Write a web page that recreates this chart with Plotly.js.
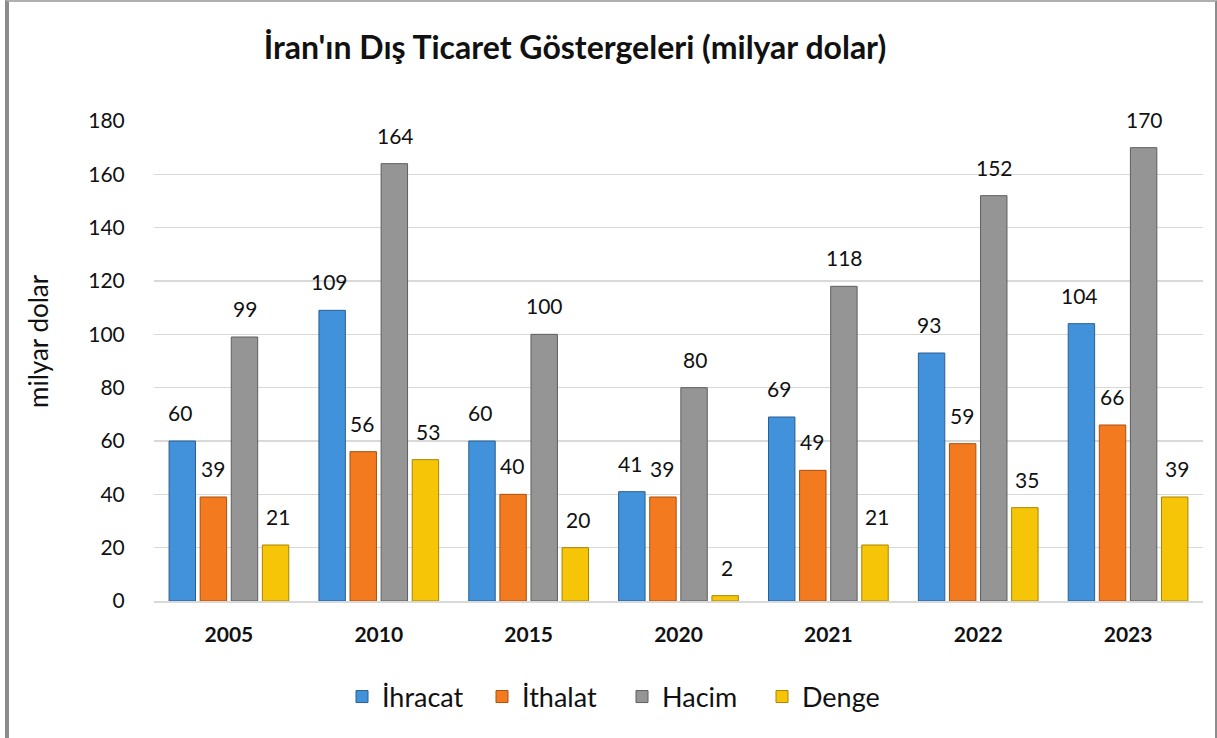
<!DOCTYPE html>
<html><head><meta charset="utf-8">
<script src="https://cdn.plot.ly/plotly-3.0.1.min.js"></script>
<style>
html,body{margin:0;padding:0;background:#fff;}
#wrap{position:relative;width:1217px;height:738px;overflow:hidden;}
#chart{position:absolute;left:0;top:0;width:1217px;height:738px;}
#frame{position:absolute;left:5px;top:0;width:1206px;height:760px;border-left:4px solid #8c8c8c;border-right:3px solid #8c8c8c;border-top:2px solid #b0b0b0;pointer-events:none;}
</style></head>
<body><div id="wrap"><div id="chart"></div><div id="frame"></div></div>
<script>
const years = ['2005','2010','2015','2020','2021','2022','2023'];
const seriesNames = ['İhracat','İthalat','Hacim','Denge'];
const ihracat = [60,109,60,41,69,93,104];
const ithalat = [39,56,40,39,49,59,66];
const hacim = [99,164,100,80,118,152,170];
const denge = [21,53,20,2,21,35,39];
const yTicks = [0,20,40,60,80,100,120,140,160,180];

const allSeries = [ihracat, ithalat, hacim, denge];
const fills = ['#4192DB','#F47A20','#959595','#F6C507'];
const lines = ['#2A5F92','#A8500F','#5E5E5E','#A88400'];
const FONT = 'Lato, "Open Sans", sans-serif';

const traces = allSeries.map((vals,i)=>({
  type:'bar', name:seriesNames[i], x:years, y:vals,
  marker:{color:fills[i], line:{color:lines[i], width:1}},
  hoverinfo:'skip'
}));

const slot = 32.6;
const annotations = [];
allSeries.forEach((vals,i)=>{
  vals.forEach((v,j)=>{
    annotations.push({x:j, y:v, xref:'x', yref:'y', text:String(v),
      showarrow:false, yanchor:'bottom', yshift:14, xshift:(i-1.5)*slot,
      font:{family:FONT, size:21, color:'#111'}});
  });
});
annotations.push({xref:'paper', yref:'paper', x:(38-154)/1049, y:(601-341)/480, text:'milyar dolar',
  textangle:-90, showarrow:false, xanchor:'center', yanchor:'middle',
  font:{family:FONT, size:26, color:'#111'}});

const layout = {
  width:1217, height:738,
  margin:{l:154, r:14, t:121, b:137},
  paper_bgcolor:'#fff', plot_bgcolor:'#fff',
  barmode:'group', bargap:0.17, bargroupgap:0.15,
  title:{text:"<b>İran'ın Dış Ticaret Göstergeleri (milyar dolar)</b>", x:575/1217, xanchor:'center', xref:'container',
    y:1-48/738, yanchor:'middle', yref:'container',
    font:{family:FONT, size:32, color:'#111'}},
  xaxis:{type:'category', showgrid:false, showline:true, linecolor:'#d9d9d9', linewidth:2,
    ticks:'outside', ticklen:14, tickcolor:'rgba(0,0,0,0)',
    tickfont:{family:FONT, size:21, color:'#111', weight:'bold'}},
  yaxis:{range:[0,180], tickvals:yTicks, showgrid:true, gridcolor:'#d9d9d9', gridwidth:1.5,
    zeroline:false, showline:false, ticks:'outside', ticklen:24, tickcolor:'rgba(0,0,0,0)',
    tickfont:{family:FONT, size:21, color:'#111'}},
  legend:{orientation:'h', x:622/1217, xanchor:'center', xref:'container', y:1-697/738, yanchor:'middle', yref:'container',
    font:{family:FONT, size:27, color:'#111'}, traceorder:'normal', entrywidth:95, entrywidthmode:'pixels'},
  annotations:annotations,
  font:{family:FONT}
};
Plotly.newPlot('chart', traces, layout, {displayModeBar:false, staticPlot:true});
</script></body></html>
